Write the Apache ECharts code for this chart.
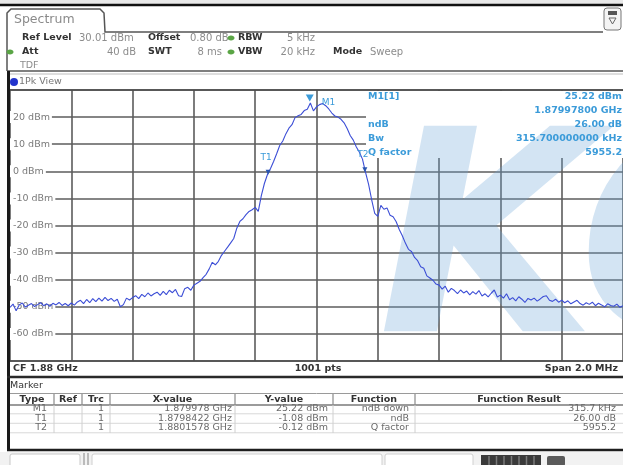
<!DOCTYPE html>
<html>
<head>
<meta charset="utf-8">
<script src="https://cdn.jsdelivr.net/npm/echarts@6/dist/echarts.min.js"></script>
<style>
  html, body { margin: 0; padding: 0; background: #ffffff; }
  #chart { width: 623px; height: 465px; }
</style>
</head>
<body>
<div id="chart"></div>
<script>
// Sweep settings: CF 1.88 GHz, span 2 MHz, trace sampled every 10 kHz (MHz units)
const freqStartMHz = 1879.0;
const freqStepMHz = 0.01;

// Trace level per sweep point, dBm
const traceDbm = [
  -50.2, -49.0, -51.5, -49.3, -48.6, -50.1, -49.4, -48.8, -49.9, -49.2,
  -48.5, -49.6, -48.9, -49.8, -48.7, -49.3, -48.4, -49.5, -48.8, -49.6,
  -48.6, -49.4, -48.2, -47.6, -48.8, -47.3, -48.5, -47.0, -48.1, -46.8,
  -47.9, -46.5, -47.7, -46.9, -48.0, -47.2, -50.0, -49.2, -46.8, -47.5,
  -46.6, -45.9, -47.0, -45.4, -46.3, -44.9, -46.0, -45.2, -44.6, -45.8,
  -44.3, -45.5, -43.9, -44.8, -43.6, -45.9, -46.2, -43.3, -42.8, -43.9,
  -42.0, -41.3, -40.6, -39.2, -38.0, -36.0, -33.6, -34.5, -33.2, -31.0,
  -29.5, -28.0, -26.4, -24.8, -21.0, -18.5, -17.5, -16.0, -14.8, -14.2,
  -13.3, -14.8, -9.0, -4.5, -1.2, 1.0, 3.6, 6.5, 9.5, 11.2,
  13.8, 15.9, 17.2, 19.8, 20.5, 21.0, 22.4, 22.9, 25.22, 22.3,
  23.8, 24.6, 25.0, 24.2, 23.0, 21.5, 20.4, 20.0, 19.2, 17.9,
  15.8, 13.2, 11.5, 9.0, 7.0, 4.5, -0.4, -4.8, -10.5, -15.5,
  -16.6, -12.6, -14.0, -13.5, -16.2, -16.8, -18.6, -21.5, -23.8, -26.5,
  -28.8, -29.6, -31.8, -33.0, -35.2, -35.8, -38.6, -39.4, -40.2, -41.6,
  -42.0, -43.5, -42.4, -44.6, -43.2, -44.0, -45.1, -43.8, -44.9, -44.2,
  -45.6, -44.4, -45.3, -44.0, -46.0, -45.2, -46.3, -45.0, -43.8, -46.4,
  -45.7, -46.8, -45.2, -47.4, -46.6, -47.8, -46.3, -47.2, -48.4, -46.9,
  -47.5, -46.8, -47.9, -47.1, -46.2, -45.9, -47.6, -48.0, -47.2, -48.3,
  -47.6, -48.5, -47.8, -48.9, -48.2, -47.6, -48.8, -49.4, -48.5, -49.1,
  -48.3, -49.6, -48.7, -49.3, -50.0, -48.9, -49.5, -49.8, -49.0, -50.2,
  -49.6
];

// Level axis
const levelMin = -70, levelMax = 30, levelStep = 10;
const levelUnit = 'dBm';

// Markers
const markerNames = ['M1', 'T1', 'T2'];
const markerRefs = ['', '', ''];
const markerTraces = ['1', '1', '1'];
const markerFreqGHz = [1.879978, 1.8798422, 1.8801578];
const markerFreqText = ['1.879978 GHz', '1.8798422 GHz', '1.8801578 GHz'];
const markerLevelDbm = [25.22, -1.08, -0.12];
const markerFunctions = ['ndB down', 'ndB', 'Q factor'];
const markerResults = ['315.7 kHz', '26.00 dB', '5955.2'];

// Marker readout block in the diagram
const readoutNames = ['M1[1]', '', 'ndB', 'Bw', 'Q factor'];
const readoutValues = ['25.22 dBm', '1.87997800 GHz', '26.00 dB', '315.700000000 kHz', '5955.2'];

const FONT = '"DejaVu Sans", Verdana, sans-serif';
const GRID_COLOR = '#5c5c5c';
const MARK_BLUE = '#3b9bd9';

const traceData = traceDbm.map((v, i) => [freqStartMHz + i * freqStepMHz, v]);

function txt(x, y, s, o) {
  o = o || {};
  const align = o.align || 'left';
  return {
    type: 'text', x: x, y: y, z: o.z != null ? o.z : 5, silent: true,
    style: {
      text: s,
      fill: o.color || '#333',
      font: (o.bold ? 'bold ' : '') + (o.size || 10) + 'px ' + FONT,
      align: align, textAlign: align,
      verticalAlign: 'middle', textVerticalAlign: 'middle'
    }
  };
}
function rect(x, y, w, h, fill, o) {
  o = o || {};
  return {
    type: 'rect', z: o.z != null ? o.z : 0, silent: true,
    shape: { x: x, y: y, width: w, height: h, r: o.r || 0 },
    style: { fill: fill, stroke: o.stroke || null, lineWidth: o.lw || 1 }
  };
}
function line(x1, y1, x2, y2, color, w, z) {
  return {
    type: 'line', z: z != null ? z : 4, silent: true,
    shape: { x1: x1, y1: y1, x2: x2, y2: y2 },
    style: { stroke: color, lineWidth: w || 1 }
  };
}

const g = [];
// window chrome
g.push(rect(0, 0, 623, 5, '#e9e9e9'));
g.push(line(0, 5, 623, 5, '#111', 2.5));
// tab
g.push({
  type: 'polyline', z: 4, silent: true,
  shape: { points: [[7, 71], [7, 13], [11, 9], [100, 9], [104, 13], [105, 32], [603, 32]] },
  style: { stroke: '#555', lineWidth: 1.5, fill: null }
});
g.push(txt(14, 20, 'Spectrum', { color: '#8a8a8a', size: 12.5 }));
g.push(rect(604, 8, 17, 22, '#f4f4f4', { stroke: '#777', r: 3, z: 4 }));
g.push(rect(608, 11, 9, 4, '#555', { z: 5 }));
g.push({ type: 'polygon', z: 5, silent: true, shape: { points: [[609, 18], [616, 18], [612.5, 24]] }, style: { fill: null, stroke: '#666', lineWidth: 1 } });

// settings header
g.push(txt(22, 38, 'Ref Level', { bold: true, size: 9.5 }));
g.push(txt(79, 38, '30.01 dBm', { color: '#8c8c8c' }));
g.push(txt(148, 38, 'Offset', { bold: true, size: 9.5 }));
g.push(txt(190, 38, '0.80 dB', { color: '#8c8c8c' }));
g.push(txt(238, 38, 'RBW', { bold: true, size: 9.5 }));
g.push(txt(315, 38, '5 kHz', { color: '#8c8c8c', align: 'right' }));
g.push(txt(22, 52, 'Att', { bold: true, size: 9.5 }));
g.push(txt(136, 52, '40 dB', { color: '#8c8c8c', align: 'right' }));
g.push(txt(148, 52, 'SWT', { bold: true, size: 9.5 }));
g.push(txt(222, 52, '8 ms', { color: '#8c8c8c', align: 'right' }));
g.push(txt(238, 52, 'VBW', { bold: true, size: 9.5 }));
g.push(txt(315, 52, '20 kHz', { color: '#8c8c8c', align: 'right' }));
g.push(txt(333, 52, 'Mode', { bold: true, size: 9.5 }));
g.push(txt(370, 52, 'Sweep', { color: '#8c8c8c' }));
g.push(txt(20, 66, 'TDF', { color: '#8c8c8c', size: 9.5 }));
[[231, 38], [231, 52], [10, 52]].forEach(p => {
  g.push({ type: 'ellipse', z: 5, silent: true, shape: { cx: p[0], cy: p[1], rx: 3.5, ry: 2.5 }, style: { fill: '#5aa545' } });
});

// window title row
g.push(line(7, 71, 623, 71, '#555', 1.5));
g.push(line(7, 74, 623, 74, '#bdbdbd', 1));
g.push({ type: 'circle', z: 5, silent: true, shape: { cx: 14, cy: 82, r: 4 }, style: { fill: '#2233cc' } });
g.push(txt(19, 82, '1Pk View', { color: '#777', size: 9.5 }));

// diagram frame
g.push(line(10, 90, 623, 90, '#4a4a4a', 1.5));
g.push(line(10, 361, 623, 361, '#4a4a4a', 1.5));
g.push(line(8.5, 71, 8.5, 451, '#1a1a1a', 3));
// readout area (covers the grid behind it)
g.push(rect(366, 91, 260, 67, '#ffffff', { z: 1 }));
readoutNames.forEach((s, i) => {
  const y = 97 + i * 13.8;
  if (s) g.push(txt(368, y, s, { bold: true, size: 9.5, color: MARK_BLUE, z: 6 }));
  g.push(txt(622, y, readoutValues[i], { bold: true, size: 9.5, color: MARK_BLUE, align: 'right', z: 6 }));
});

// watermark
g.push({
  type: 'text', x: 378, y: 258, z: 1.5, silent: true,
  style: {
    text: 'KC', fill: 'rgba(110,165,215,0.3)',
    font: 'italic bold 282px ' + FONT,
    align: 'left', textAlign: 'left', verticalAlign: 'middle', textVerticalAlign: 'middle'
  }
});

// status bar under the diagram
g.push(txt(13, 369, 'CF 1.88 GHz', { bold: true, size: 9.5 }));
g.push(txt(318, 369, '1001 pts', { bold: true, size: 9.5, align: 'center' }));
g.push(txt(618, 369, 'Span 2.0 MHz', { bold: true, size: 9.5, align: 'right' }));
g.push(line(7, 377, 623, 377, '#2a2a2a', 2.5));

// marker table
g.push(txt(10, 386, 'Marker', { color: '#333', size: 9.5 }));
const cols = [10, 54, 82, 110, 235, 333, 415, 623];
const headers = ['Type', 'Ref', 'Trc', 'X-value', 'Y-value', 'Function', 'Function Result'];
g.push(line(10, 393.5, 623, 393.5, '#9a9a9a', 1));
g.push(line(10, 405, 623, 405, '#7a7a7a', 1.5));
headers.forEach((h, i) => {
  g.push(txt((cols[i] + cols[i + 1]) / 2, 399.5, h, { bold: true, size: 9.5, align: 'center' }));
  if (i > 0) g.push(line(cols[i], 394, cols[i], 405, '#8a8a8a', 1.2));
});
const rowY = [409, 418.5, 428];
markerNames.forEach((n, r) => {
  const y = rowY[r];
  const cells = [
    [47, n], [80, markerRefs[r]], [104, markerTraces[r]], [232, markerFreqText[r]],
    [328, markerLevelDbm[r].toFixed(2) + ' dBm'], [409, markerFunctions[r]], [616, markerResults[r]]
  ];
  cells.forEach(c => g.push(txt(c[0], y, c[1], { color: '#6a6a6a', size: 9.5, align: 'right' })));
  g.push(line(10, y + 4.8, 623, y + 4.8, '#d8d8d8', 1));
});
for (let i = 1; i < cols.length - 1; i++) g.push(line(cols[i], 405, cols[i], 433, '#d0d0d0', 1));
g.push(line(7, 450, 623, 450, '#1e1e1e', 2.5));

// soft-key strip at the bottom
g.push(rect(0, 452, 623, 13, '#f2f2f2'));
g.push(rect(10, 454, 70, 14, '#ffffff', { stroke: '#c8c8c8', r: 2, z: 1 }));
g.push(line(84, 453, 84, 465, '#a8a8a8', 1.5));
g.push(line(88, 453, 88, 465, '#a8a8a8', 1.5));
g.push(rect(92, 454, 290, 14, '#ffffff', { stroke: '#d0d0d0', r: 2, z: 1 }));
g.push(rect(385, 454, 88, 14, '#ffffff', { stroke: '#d0d0d0', r: 2, z: 1 }));
g.push(rect(481, 455, 60, 12, '#3a3a3a', { z: 2 }));
for (let k = 0; k < 7; k++) g.push(line(489 + k * 7.5, 456, 489 + k * 7.5, 465, '#7a7a7a', 1.5, 3));
g.push(rect(547, 456, 18, 10, '#5a5a5a', { z: 2, r: 2 }));

const chart = echarts.init(document.getElementById('chart'), null, { renderer: 'canvas' });
chart.setOption({
  animation: false,
  backgroundColor: '#ffffff',
  grid: { left: 10, top: 90, width: 615, height: 271, containLabel: false },
  xAxis: {
    type: 'value', min: 1879, max: 1881, interval: 0.2,
    axisLine: { show: false }, axisTick: { show: false }, axisLabel: { show: false },
    splitLine: { show: true, lineStyle: { color: GRID_COLOR, width: 1.6 } }
  },
  yAxis: [
    {
      type: 'value', min: levelMin, max: levelMax, interval: levelStep,
      axisLine: { show: false }, axisTick: { show: false }, axisLabel: { show: false },
      splitLine: { show: true, lineStyle: { color: GRID_COLOR, width: 1.6 } }
    },
    {
      type: 'value', position: 'left', min: levelMin, max: levelMax, interval: levelStep, z: 1,
      axisLine: { show: false }, axisTick: { show: false }, splitLine: { show: false },
      axisLabel: {
        inside: true, margin: 0, showMinLabel: false, showMaxLabel: false,
        color: '#7a7a7a', fontFamily: FONT, fontSize: 9.5,
        backgroundColor: '#ffffff', padding: [1, 2, 1, 3],
        formatter: v => v + ' ' + levelUnit
      }
    }
  ],
  series: [{
    type: 'line', yAxisIndex: 0, z: 3,
    data: traceData, showSymbol: false, smooth: false,
    lineStyle: { color: '#3c4ed6', width: 1.1 },
    itemStyle: { color: '#3c4ed6' },
    markPoint: {
      silent: true,
      data: markerNames.map((n, i) => ({
        name: n,
        coord: [markerFreqGHz[i] * 1000, markerLevelDbm[i]],
        symbol: 'triangle', symbolRotate: 180,
        symbolSize: i === 0 ? [8, 7] : [5, 5],
        symbolOffset: i === 0 ? [0, -5] : [0, -2],
        itemStyle: { color: i === 0 ? MARK_BLUE : '#2a55b0' },
        label: {
          show: true, formatter: n, color: MARK_BLUE, fontFamily: FONT, fontSize: 9,
          position: i === 0 ? 'right' : 'top',
          offset: i === 0 ? [3, 5] : [-2, -3]
        }
      }))
    }
  }],
  graphic: { elements: g }
});
</script>
</body>
</html>
